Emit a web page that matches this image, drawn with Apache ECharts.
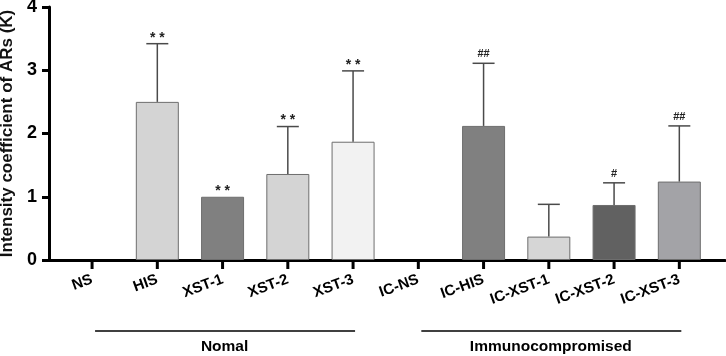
<!DOCTYPE html>
<html>
<head>
<meta charset="utf-8">
<script src="https://cdn.jsdelivr.net/npm/echarts@6/dist/echarts.min.js"></script>
<style>
  html, body { margin: 0; padding: 0; background: #fff; }
  #chart { width: 726px; height: 356px; }
</style>
</head>
<body>
<div id="chart"></div>
<script>
// categories and values
var categories = ['NS', 'HIS', 'XST-1', 'XST-2', 'XST-3', 'IC-NS', 'IC-HIS', 'IC-XST-1', 'IC-XST-2', 'IC-XST-3'];
var means = [0, 2.5, 1.0, 1.36, 1.87, 0, 2.12, 0.37, 0.87, 1.24];
var errTop = [0, 3.42, 1.0, 2.11, 2.99, 0, 3.11, 0.88, 1.22, 2.12];
var marks = ['', '**', '**', '**', '**', '', '##', '', '#', '##'];
var barColors = ['#d4d4d4', '#d4d4d4', '#808080', '#d4d4d4', '#f2f2f2', '#d4d4d4', '#808080', '#d6d6d6', '#616161', '#a3a3a7'];
var groupNames = ['Nomal', 'Immunocompromised'];
var groupStart = [0, 5];
var groupEnd = [4, 9];
var yTicks = [0, 1, 2, 3, 4];

var font = "'Liberation Sans', Arial, sans-serif";
var idx = categories.map(function (c, i) { return i; });

var chart = echarts.init(document.getElementById('chart'));

var option = {
  animation: false,
  grid: { left: 49, right: 1, top: 7, bottom: 96, containLabel: false, outerBoundsMode: 'none' },
  xAxis: {
    type: 'value',
    min: -0.66,
    max: 9.7,
    splitLine: { show: false },
    axisLine: { show: true, onZero: false, lineStyle: { color: '#000', width: 3 } },
    axisTick: { show: false },
    axisLabel: {
      customValues: idx,
      rotate: 20,
      margin: 19,
      color: '#000',
      fontFamily: font,
      fontWeight: 'bold',
      fontSize: 15,
      formatter: function (v) { return categories[Math.round(v)]; }
    }
  },
  yAxis: {
    type: 'value',
    min: yTicks[0],
    max: yTicks[yTicks.length - 1],
    interval: 1,
    name: 'Intensity coefficient of ARs (K)',
    nameLocation: 'middle',
    nameGap: 30,
    nameTextStyle: { color: '#111', fontFamily: font, fontWeight: 'bold', fontSize: 17 },
    splitLine: { show: false },
    axisLine: { show: true, onZero: false, lineStyle: { color: '#000', width: 3 } },
    axisTick: { show: true, length: 7, lineStyle: { color: '#000', width: 3 } },
    axisLabel: { margin: 12, color: '#000', fontFamily: font, fontWeight: 'bold', fontSize: 18 }
  },
  series: [
    {
      type: 'bar',
      barWidth: 43,
      data: means.map(function (v, i) {
        return { value: [i, v], itemStyle: { color: barColors[i], borderWidth: v > 0 ? 1 : 0 } };
      }),
      itemStyle: { borderColor: '#6e6e6e' },
      z: 2
    },
    {
      // error bars, significance marks and the category ticks
      type: 'custom',
      clip: false,
      data: idx.map(function (i) { return [i, errTop[i]]; }),
      z: 3,
      renderItem: function (params, api) {
        var i = params.dataIndex;
        var zero = api.coord([i, 0]);
        var base = api.coord([i, means[i]]);
        var top = api.coord([i, errTop[i]]);
        var children = [];
        var st = { stroke: '#4a4a4a', lineWidth: 1.5 };
        children.push({
          type: 'rect',
          shape: { x: zero[0] - 1.5, y: zero[1], width: 3, height: 9 },
          style: { fill: '#000' }
        });
        if (errTop[i] > means[i]) {
          children.push({ type: 'line', shape: { x1: base[0], y1: base[1], x2: top[0], y2: top[1] }, style: st });
          children.push({ type: 'line', shape: { x1: top[0] - 11, y1: top[1], x2: top[0] + 11, y2: top[1] }, style: st });
        }
        if (marks[i]) {
          var star = marks[i].charAt(0) === '*';
          children.push({
            type: 'text',
            x: top[0],
            y: top[1] - (star ? 6 : 9),
            style: {
              text: star ? marks[i].split('').join(' ') : marks[i],
              align: 'center',
              verticalAlign: 'middle',
              fill: '#222',
              font: (star ? 'bold 14px ' : 'bold 11px ') + font
            }
          });
        }
        return { type: 'group', children: children };
      }
    },
    {
      // group brackets under the axis
      type: 'custom',
      clip: false,
      data: groupNames.map(function (n, k) { return [groupStart[k], groupEnd[k]]; }),
      z: 5,
      renderItem: function (params, api) {
        var k = params.dataIndex;
        var p1 = api.coord([groupStart[k], 0]);
        var p2 = api.coord([groupEnd[k], 0]);
        var y = p1[1] + 71;
        return {
          type: 'group',
          children: [
            { type: 'line', shape: { x1: p1[0] + 3, y1: y, x2: p2[0] + 2, y2: y }, style: { stroke: '#000', lineWidth: 1.5 } },
            {
              type: 'text',
              x: (p1[0] + p2[0]) / 2 + 2,
              y: y + 16,
              style: { text: groupNames[k], align: 'center', verticalAlign: 'middle', fill: '#000', font: 'bold 15.5px ' + font }
            }
          ]
        };
      }
    }
  ]
};

chart.setOption(option);
</script>
</body>
</html>
